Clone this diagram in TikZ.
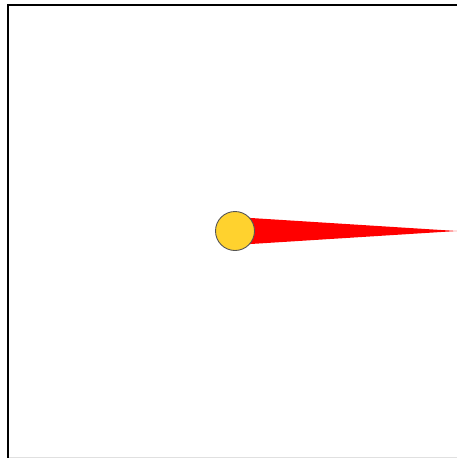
\documentclass[tikz,border=0pt]{standalone}
\definecolor{sungold}{HTML}{FFD22E}
\definecolor{rimgray}{HTML}{555555}
\begin{document}
\begin{tikzpicture}[x=1pt,y=-1pt,
  frameline/.style={line width=2pt,black},
  sun/.style={circle,fill=sungold,draw=rimgray,line width=0.9pt,minimum size=39pt,inner sep=0pt}]
\useasboundingbox (0,0) rectangle (457,458);
\fill[white] (0,0) rectangle (457,458);
\draw[line width=1pt,black!12] (7,457.5) -- (457,457.5);
\draw[frameline] (457,4.5) -- (7.5,4.5) -- (7.5,458);
\coordinate (tip) at (457,231);
\fill[red] (235,217) -- (tip) -- (235,245) -- cycle;
\node[sun] (s) at (235,231) {};
\end{tikzpicture}
\end{document}
